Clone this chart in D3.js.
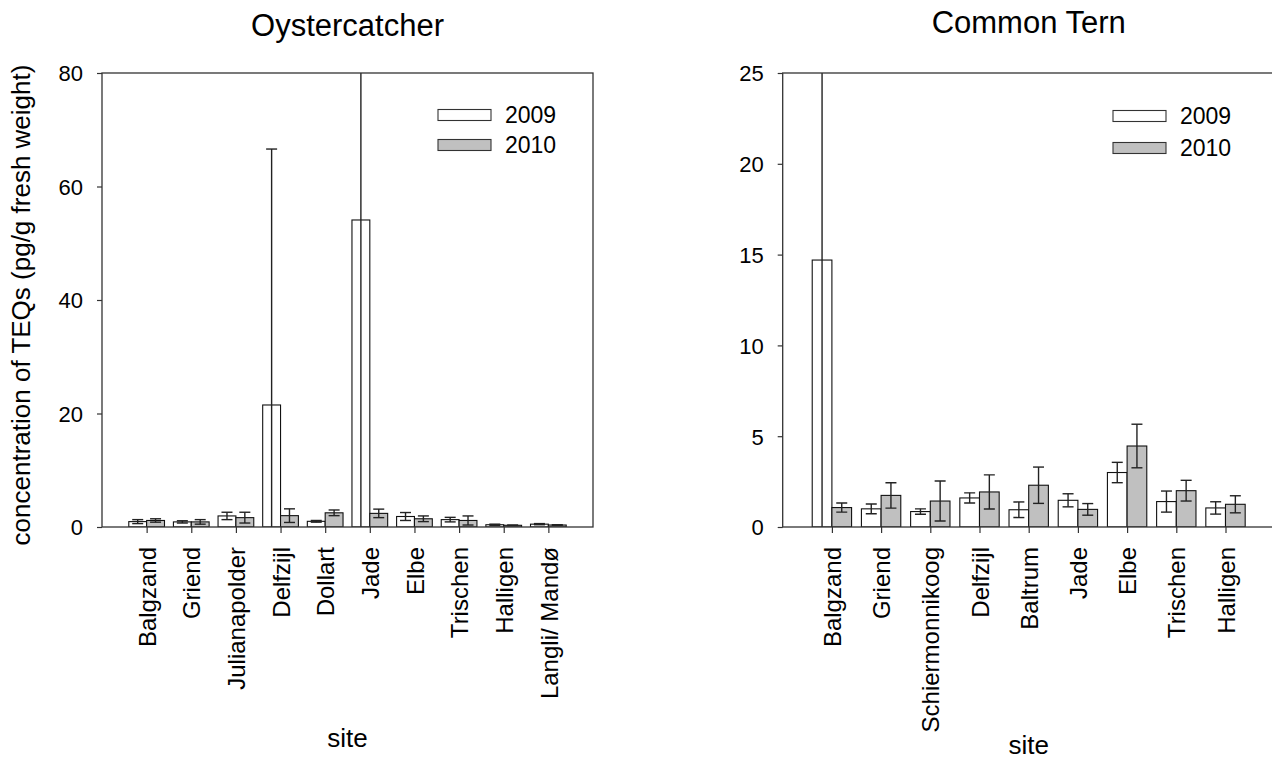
<!DOCTYPE html>
<html>
<head>
<meta charset="utf-8">
<script src="https://cdn.jsdelivr.net/npm/d3@7"></script>
<style>
  html, body { margin: 0; padding: 0; background: #fff; }
  svg text { font-family: "Liberation Sans", Arial, Helvetica, sans-serif; fill: #000; }
</style>
</head>
<body>
<svg id="chart" width="1272" height="761"></svg>
<script>
// Oystercatcher eggs: TEQ concentrations per site (mean and error)
const oysterSites = ["Balgzand", "Griend", "Julianapolder", "Delfzijl", "Dollart", "Jade", "Elbe", "Trischen", "Halligen", "Langli/ Mandø"];
const oyster2009 = [0.95, 0.9, 1.95, 21.5, 1.0, 54.1, 1.85, 1.3, 0.4, 0.5];
const oyster2009Err = [0.35, 0.2, 0.65, 45.1, 0.15, 60, 0.7, 0.4, 0.1, 0.1];
const oyster2010 = [1.15, 0.9, 1.65, 2.0, 2.5, 2.4, 1.45, 1.15, 0.3, 0.35];
const oyster2010Err = [0.3, 0.4, 0.95, 1.2, 0.5, 0.75, 0.5, 0.8, 0.05, 0.05];
const oysterTicks = [0, 20, 40, 60, 80];

// Common tern eggs
const ternSites = ["Balgzand", "Griend", "Schiermonnikoog", "Delfzijl", "Baltrum", "Jade", "Elbe", "Trischen", "Halligen"];
const tern2009 = [14.7, 1.0, 0.85, 1.6, 0.95, 1.47, 3.0, 1.4, 1.05];
const tern2009Err = [15, 0.27, 0.15, 0.28, 0.43, 0.36, 0.56, 0.58, 0.34];
const tern2010 = [1.07, 1.74, 1.43, 1.93, 2.3, 0.97, 4.46, 2.0, 1.25];
const tern2010Err = [0.25, 0.7, 1.1, 0.94, 1.0, 0.32, 1.2, 0.57, 0.47];
const ternTicks = [0, 5, 10, 15, 20, 25];

const years = ["2009", "2010"];
const yearFill = ["#ffffff", "#c0c0c0"];

const svg = d3.select("#chart");

function panel(opts) {
  const { id, title, sites, series, errors, ticks, left, right, top, bottom, legend, siteLabelY } = opts;
  const g = svg.append("g");

  const x = d3.scalePoint().domain(sites).range([left, right]).padding(1);
  const y = d3.scaleLinear().domain([0, ticks[ticks.length - 1]]).range([bottom, top]);
  const bw = x.step() * 0.4;

  g.append("clipPath").attr("id", id)
    .append("rect").attr("x", left).attr("y", top)
    .attr("width", right - left).attr("height", bottom - top);

  // y axis
  const ya = g.append("g").attr("transform", `translate(${left},0)`)
    .call(d3.axisLeft(y).tickValues(ticks).tickSize(5).tickSizeOuter(0).tickPadding(14));
  ya.select(".domain").remove();
  ya.selectAll("line").attr("stroke", "#333").attr("stroke-width", 1.2);
  ya.selectAll("text").style("font-size", "22px").attr("dy", "0.36em");

  // x axis
  const xa = g.append("g").attr("transform", `translate(0,${bottom})`)
    .call(d3.axisBottom(x).tickSize(6).tickSizeOuter(0));
  xa.select(".domain").remove();
  xa.selectAll("line").attr("stroke", "#333").attr("stroke-width", 1.2);
  xa.selectAll("text")
    .style("font-size", "24px")
    .attr("text-anchor", "end")
    .attr("transform", "rotate(-90)")
    .attr("x", -20).attr("y", 0).attr("dy", "0.36em");

  const plot = g.append("g").attr("clip-path", `url(#${id})`);

  series.forEach((vals, k) => {
    const bars = plot.append("g");
    sites.forEach((s, i) => {
      const x0 = k === 0 ? x(s) - bw : x(s);
      bars.append("rect")
        .attr("x", x0).attr("y", y(vals[i]))
        .attr("width", bw).attr("height", y(0) - y(vals[i]))
        .attr("fill", yearFill[k]).attr("stroke", "#111").attr("stroke-width", 1.1);
    });
  });

  series.forEach((vals, k) => {
    const eb = plot.append("g").attr("stroke", "#222").attr("stroke-width", 1.4).attr("fill", "none");
    sites.forEach((s, i) => {
      const cx = (k === 0 ? x(s) - bw / 2 : x(s) + bw / 2);
      const hi = vals[i] + errors[k][i];
      const lo = Math.max(0, vals[i] - errors[k][i]);
      eb.append("line").attr("x1", cx).attr("x2", cx).attr("y1", y(hi)).attr("y2", y(lo));
      [hi, vals[i] - errors[k][i]].forEach(v => {
        if (v > 0) {
          eb.append("line").attr("x1", cx - 5.5).attr("x2", cx + 5.5).attr("y1", y(v)).attr("y2", y(v));
        }
      });
    });
  });

  // frame
  g.append("rect").attr("x", left).attr("y", top)
    .attr("width", right - left).attr("height", bottom - top)
    .attr("fill", "none").attr("stroke", "#333").attr("stroke-width", 1.3);

  // title
  g.append("text").attr("x", (left + right) / 2).attr("y", opts.titleY)
    .attr("text-anchor", "middle").style("font-size", "31px").text(title);

  // x title
  g.append("text").attr("x", (left + right) / 2).attr("y", siteLabelY)
    .attr("text-anchor", "middle").style("font-size", "26px").text("site");

  // legend
  years.forEach((yr, k) => {
    const ly = legend.y + k * legend.gap;
    g.append("rect").attr("x", legend.x).attr("y", ly - 5.5).attr("width", 53).attr("height", 11)
      .attr("fill", yearFill[k]).attr("stroke", "#333").attr("stroke-width", 1.1);
    g.append("text").attr("x", legend.x + 67).attr("y", ly).attr("dy", "0.36em")
      .style("font-size", "23px").text(yr);
  });
}

panel({
  id: "clipOyster", title: "Oystercatcher", sites: oysterSites,
  series: [oyster2009, oyster2010], errors: [oyster2009Err, oyster2010Err],
  ticks: oysterTicks, left: 102, right: 593, top: 73, bottom: 527,
  titleY: 36, siteLabelY: 747, legend: { x: 438, y: 115, gap: 30 }
});

panel({
  id: "clipTern", title: "Common Tern", sites: ternSites,
  series: [tern2009, tern2010], errors: [tern2009Err, tern2010Err],
  ticks: ternTicks, left: 782.7, right: 1274.7, top: 73, bottom: 527,
  titleY: 33, siteLabelY: 754, legend: { x: 1113, y: 116, gap: 32 }
});

// shared y-axis title
svg.append("text")
  .attr("transform", "translate(21,305) rotate(-90)")
  .attr("text-anchor", "middle").attr("dy", "0.36em")
  .style("font-size", "26px")
  .text("concentration of TEQs (pg/g fresh weight)");
</script>
</body>
</html>
